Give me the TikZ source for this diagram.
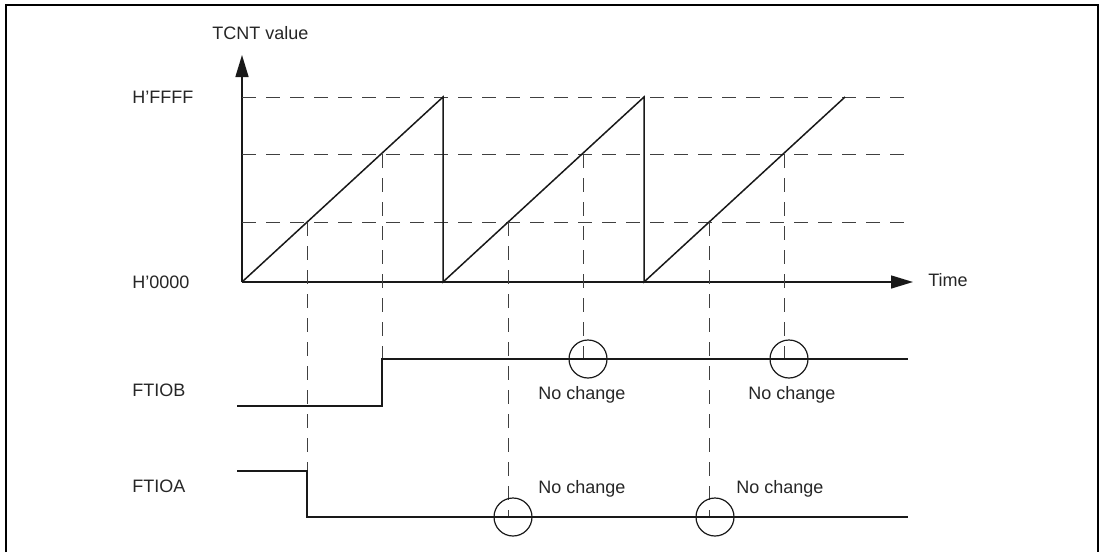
\documentclass[tikz,border=0pt]{standalone}
\usepackage{fontspec}
\setmainfont{Liberation Sans}
\usetikzlibrary{arrows.meta}

\begin{document}
\begin{tikzpicture}[x=0.5pt,y=-0.5pt,
    lbl/.style={font=\fontsize{9}{11}\selectfont, text=black!85, inner sep=0pt},
    sig/.style={line width=0.75pt, draw=black!90},
    guide/.style={line width=0.5pt, draw=black!75, dash pattern=on 7pt off 5pt},
    nochg/.style={circle, draw=black!90, line width=0.6pt, minimum size=19pt, inner sep=0pt}]
                        \useasboundingbox (0,0) rectangle (1103,552);

                        % Frame
                        \draw[line width=1.3pt] (6,552) -- (6,5) -- (1098,5) -- (1098,552);

                        % Labels
                        \node[lbl, anchor=west] (tcnt) at (212,33) {TCNT value};
                        \node[lbl, anchor=west] (ffff) at (132,97) {H'FFFF};
                        \node[lbl, anchor=west] (zero) at (132,282) {H'0000};
                        \node[lbl, anchor=west] (ftiob) at (132,390) {FTIOB};
                        \node[lbl, anchor=west] (ftioa) at (132,486) {FTIOA};
                        \node[lbl, anchor=west] (time) at (928,280) {Time};

                        % Axes
                        \coordinate (o) at (242,282);
                        \coordinate (ytip) at (242,55);
                        \coordinate (xtip) at (913,282);
                        \draw[sig, -{Triangle[length=11pt,width=6.5pt]}] (o) -- (ytip);
                        \draw[sig, -{Triangle[length=11pt,width=6.5pt]}] (o) -- (xtip);

                        % Compare levels
                        \draw[guide] (242,97) -- (908,97);
                        \draw[guide] (242,154) -- (908,154);
                        \draw[guide] (242,222) -- (908,222);

                        % Counter
                        \draw[sig] (o) -- (443,97) -- (443,282) -- (644,97) -- (644,282) -- (845,97);

                        % Compare matches
                        \draw[guide] (307,222) -- (307,471);
                        \draw[guide] (382,154) -- (382,359);
                        \draw[guide] (508,222) -- (508,517);
                        \draw[guide] (583,154) -- (583,359);
                        \draw[guide] (709,222) -- (709,517);
                        \draw[guide] (784,154) -- (784,359);

                        % Outputs
                        \draw[sig] (237,406) -- (382,406) -- (382,359) -- (908,359);
                        \draw[sig] (237,471) -- (307,471) -- (307,517) -- (908,517);

                        \node[nochg] (b1) at (588,359) {};
                        \node[nochg] (b2) at (789,359) {};
                        \node[nochg] (a1) at (513,517) {};
                        \node[nochg] (a2) at (715,517) {};

                        \node[lbl] (nb1) at (582,395) {No change};
                        \node[lbl] (nb2) at (792,395) {No change};
                        \node[lbl] (na1) at (582,489) {No change};
                        \node[lbl] (na2) at (780,489) {No change};
                    \end{tikzpicture}
\end{document}
